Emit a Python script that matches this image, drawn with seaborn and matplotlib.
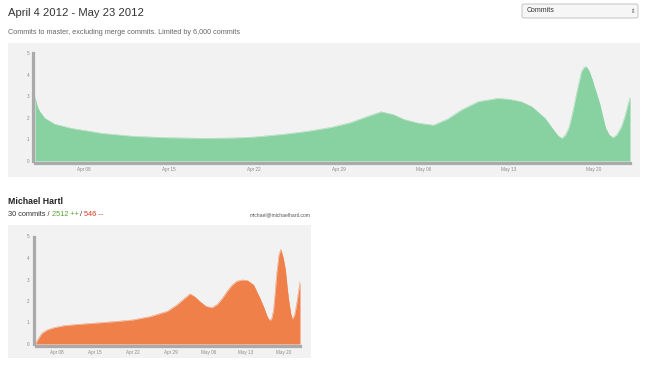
import matplotlib
matplotlib.use("Agg")
import matplotlib.pyplot as plt
import seaborn as sns
from matplotlib.patches import Rectangle, FancyBboxPatch

# all commits to master (days since Apr 4 2012)
total_days = [0, 0.2, 0.4, 0.8, 1.6, 3.0, 4.0, 5.5, 8.2, 11, 14, 16.5, 18, 20.5,
              22.5, 24.4, 26, 27.3, 28.5, 29.5, 30.4, 31.6, 32.8, 34, 35.1, 36.5,
              38.1, 39, 40, 40.9, 42.0, 42.8, 43.1, 43.4, 43.7, 44.0, 44.3, 44.6,
              45.0, 45.2, 45.4, 45.65, 45.9, 46.2, 46.5, 46.8, 47.0, 47.3, 47.6,
              47.9, 48.3, 48.6, 49.0]
total_commits = [2.95, 2.5, 2.28, 1.98, 1.71, 1.51, 1.42, 1.28, 1.14, 1.08, 1.05,
                 1.07, 1.11, 1.24, 1.38, 1.56, 1.78, 2.05, 2.28, 2.15, 1.92, 1.75,
                 1.66, 1.95, 2.36, 2.75, 2.9, 2.86, 2.75, 2.52, 1.98, 1.36, 1.15,
                 1.05, 1.22, 1.59, 2.3, 3.13, 4.13, 4.32, 4.37, 4.15, 3.75, 3.2,
                 2.67, 1.95, 1.51, 1.2, 1.08, 1.2, 1.59, 2.1, 2.95]

# Michael Hartl
user_days = [0, 0.3, 0.6, 1.2, 2.1, 3.4, 5.2, 7.7, 12, 15, 18, 21.3, 24.4, 26.2,
             27.5, 28.6, 29.5, 30.5, 31.6, 32.7, 33.7, 34.6, 35.5, 36.4, 37.3,
             38.3, 39.3, 40.4, 41.6, 42.3, 42.9, 43.2, 43.5, 43.8, 44.1, 44.4,
             44.7, 45.1, 45.45, 45.9, 46.3, 46.6, 46.9, 47.3, 47.6, 48.0, 48.4,
             49.0]
user_commits = [0, 0.15, 0.28, 0.5, 0.65, 0.76, 0.85, 0.91, 0.99, 1.05, 1.12, 1.28,
                1.52, 1.82, 2.1, 2.33, 2.2, 1.97, 1.75, 1.69, 1.85, 2.12, 2.45,
                2.74, 2.92, 2.98, 2.95, 2.75, 2.12, 1.7, 1.3, 1.15, 1.1, 1.22,
                1.58, 2.4, 3.29, 4.15, 4.4, 4.0, 3.44, 2.7, 2.05, 1.4, 1.15, 1.35,
                1.89, 2.9]

tick_days = [4, 11, 18, 25, 32, 39, 46]
tick_labels = ["Apr 08", "Apr 15", "Apr 22", "Apr 29", "May 06", "May 13", "May 20"]
y_ticks = [0, 1, 2, 3, 4, 5]

sns.set_style("white")
plt.rcParams["font.family"] = ["Liberation Sans", "DejaVu Sans"]

W, H = 648, 368
fig = plt.figure(figsize=(W / 100, H / 100), dpi=100)


def box(x0, y0, x1, y1):
    # pixel box (top-left origin) -> figure fraction rect
    return [x0 / W, 1 - y1 / H, (x1 - x0) / W, (y1 - y0) / H]


def panel_bg(x0, y0, x1, y1):
    r = box(x0, y0, x1, y1)
    fig.add_artist(Rectangle((r[0], r[1]), r[2], r[3], transform=fig.transFigure,
                             facecolor="#f2f2f2", edgecolor="none", zorder=0))


def area(ax, days, vals, color):
    sns.lineplot(x=days, y=vals, ax=ax, color=color, linewidth=0.3)
    ax.fill_between(days, vals, 0, color=color, linewidth=0)
    ax.set_xlim(0, 49)
    ax.set_ylim(0, 5)
    ax.set_facecolor("none")
    ax.set_xticks(tick_days)
    ax.set_xticklabels(tick_labels)
    ax.set_yticks(y_ticks)
    for s in ["top", "right"]:
        ax.spines[s].set_visible(False)
    for s in ["left", "bottom"]:
        ax.spines[s].set_color("#aaaaaa")
        ax.spines[s].set_linewidth(2.3)
        ax.spines[s].set_position(("outward", 1.2))
    ax.tick_params(length=0, labelsize=3.3, colors="#8a8a8a", pad=3)
    ax.set_xlabel("")
    ax.set_ylabel("")


# header
fig.text(8 / W, 1 - 13 / H, "April 4 2012 - May 23 2012", fontsize=8.1,
         color="#333333", va="center", ha="left")
fig.text(8 / W, 1 - 32 / H,
         "Commits to master, excluding merge commits. Limited by 6,000 commits",
         fontsize=5.2, color="#666666", va="center", ha="left")

# select box
r = box(522, 4, 638, 18)
fig.add_artist(FancyBboxPatch((r[0], r[1]), r[2], r[3], boxstyle="round,pad=0,rounding_size=0.004",
                              transform=fig.transFigure, facecolor="#f6f6f6",
                              edgecolor="#bbbbbb", linewidth=0.6))
fig.text(527 / W, 1 - 11 / H, "Commits", fontsize=5, color="#333333", va="center")
fig.text(633 / W, 1 - 11 / H, "\u21d5", fontsize=4, color="#555555", va="center", ha="center")

# overall panel
panel_bg(8, 43, 640, 177)
ax1 = fig.add_axes(box(35, 53, 630, 161))
area(ax1, total_days, total_commits, "#88d1a0")

# contributor panel
fig.text(8 / W, 1 - 201 / H, "Michael Hartl", fontsize=6.3, color="#222222",
         va="center", fontweight="bold")
t1 = fig.text(8 / W, 1 - 215 / H, "30 commits / ", fontsize=5.3, color="#333333",
              va="center")
t2 = fig.add_artist(plt.Annotation("2512 ++", xy=(1, 0), xycoords=t1, va="bottom",
                                   fontsize=5.3, color="#55a532"))
t3 = fig.add_artist(plt.Annotation(" / ", xy=(1, 0), xycoords=t2, va="bottom",
                                   fontsize=5.3, color="#333333"))
t4 = fig.add_artist(plt.Annotation("546 --", xy=(1, 0), xycoords=t3, va="bottom",
                                   fontsize=5.3, color="#d9381e"))
fig.text(311 / W, 1 - 215 / H, "michael@michaelhartl.com", fontsize=3.6,
         color="#555555", va="center", ha="right")

panel_bg(8, 225, 311, 358)
ax2 = fig.add_axes(box(35.5, 236.5, 300, 344))
area(ax2, user_days, user_commits, "#f0804a")

fig.savefig("out.png", dpi=100)
